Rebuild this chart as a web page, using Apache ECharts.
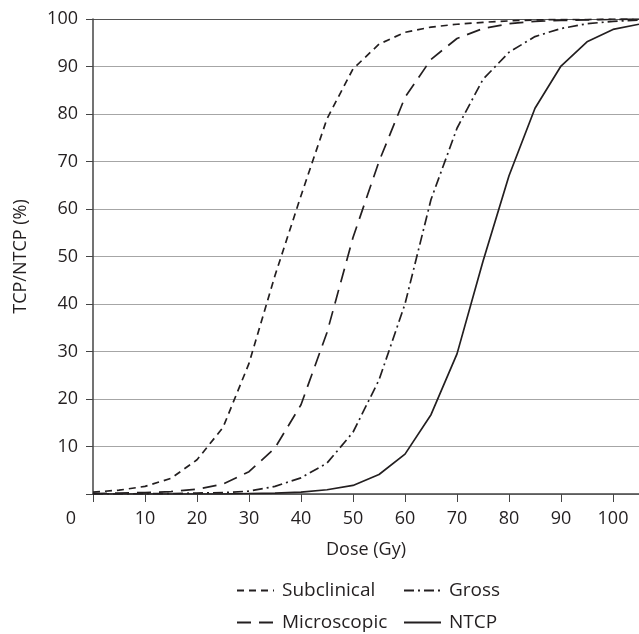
<!DOCTYPE html>
<html>
<head>
<meta charset="utf-8">
<script src="https://cdn.jsdelivr.net/npm/echarts@6/dist/echarts.min.js"></script>
<style>
  html, body { margin: 0; padding: 0; background: #fff; }
  #main { width: 639px; height: 634px; }
</style>
</head>
<body>
<div id="main"></div>
<script>
// dose in Gy, every 5 Gy
const dose = [0, 5, 10, 15, 20, 25, 30, 35, 40, 45, 50, 55, 60, 65, 70, 75, 80, 85, 90, 95, 100, 105];

const subclinical = [0.4, 0.8, 1.6, 3.3, 7.2, 14, 27.5, 46, 62.8, 79, 89.5, 94.7, 97.2, 98.3, 98.9, 99.3, 99.6, 99.8, 99.9, 99.9, 100, 100];
const microscopic = [0.1, 0.2, 0.3, 0.5, 1.0, 2.1, 4.7, 9.7, 18.8, 34, 54, 70, 83.5, 91.5, 95.9, 98, 99, 99.5, 99.7, 99.8, 99.9, 100];
const gross = [0, 0, 0.1, 0.1, 0.2, 0.3, 0.6, 1.6, 3.4, 6.5, 13, 24, 40, 62, 77, 87.3, 93, 96.3, 98, 99, 99.5, 99.8];
const ntcp = [0, 0, 0, 0, 0, 0, 0.1, 0.2, 0.4, 0.9, 1.8, 4.1, 8.4, 16.7, 29.5, 49, 67, 81.2, 90.1, 95.2, 97.8, 98.9];

const font = 'Open Sans';
const ink = '#231f20';

function pairs(vals) {
  return dose.map((d, i) => [d, vals[i]]);
}

function lineSeries(name, vals, type) {
  return {
    name: name,
    type: 'line',
    data: pairs(vals),
    symbol: 'none',
    smooth: false,
    lineStyle: { color: ink, width: 1.7, type: type },
    itemStyle: { color: ink }
  };
}

const gridColors = ['#a6a6a6', '#a6a6a6', '#a6a6a6', '#a6a6a6', '#a6a6a6', '#a6a6a6',
  '#a6a6a6', '#a6a6a6', '#a6a6a6', '#a6a6a6', '#555'];

// two vertical legends side by side to get the 2x2 block
const legendBase = {
  orient: 'vertical',
  top: 581,
  padding: 0,
  itemWidth: 37,
  itemHeight: 14,
  itemGap: 13,
  itemStyle: { color: 'transparent', borderColor: 'transparent', borderWidth: 0 },
  textStyle: { fontFamily: font, fontSize: 19, lineHeight: 18, color: ink, padding: [0, 0, 0, 3] }
};

const option = {
  animation: false,
  backgroundColor: '#fff',
  grid: { left: 93, top: 19, width: 548, height: 475 },
  xAxis: {
    type: 'value',
    min: 0,
    max: 105,
    interval: 10,
    name: 'Dose (Gy)',
    nameLocation: 'middle',
    nameGap: 47,
    nameTextStyle: { fontFamily: font, fontSize: 18, color: ink },
    axisLine: { lineStyle: { color: '#444', width: 1.5 } },
    axisTick: { length: 8, lineStyle: { color: '#444' } },
    axisLabel: {
      fontFamily: font, fontSize: 18, color: ink, margin: 16,
      showMaxLabel: false,
      formatter: v => (v === 0 || v % 10 !== 0) ? '' : String(v)
    },
    splitLine: { show: false }
  },
  yAxis: {
    type: 'value',
    min: 0,
    max: 100,
    interval: 10,
    name: 'TCP/NTCP (%)',
    nameLocation: 'middle',
    nameGap: 63,
    nameTextStyle: { fontFamily: font, fontSize: 18, color: ink },
    axisLine: { show: true, lineStyle: { color: '#444', width: 1.5 } },
    axisTick: { show: true, length: 7, lineStyle: { color: '#444' } },
    axisLabel: {
      fontFamily: font, fontSize: 18, color: ink, margin: 15,
      formatter: v => v === 0 ? '' : String(v)
    },
    splitLine: { show: true, lineStyle: { color: gridColors, width: 1 } }
  },
  legend: [
    Object.assign({}, legendBase, { left: 236, data: ['Subclinical', 'Microscopic'] }),
    Object.assign({}, legendBase, { left: 403, data: ['Gross', 'NTCP'] })
  ],
  graphic: [{
    type: 'text',
    x: 71,
    y: 519,
    style: { text: '0', align: 'center', verticalAlign: 'middle', font: '18px "Open Sans"', fill: ink }
  }],
  series: [
    lineSeries('Subclinical', subclinical, [7, 5]),
    lineSeries('Microscopic', microscopic, [14, 8]),
    lineSeries('Gross', gross, [10, 4, 2, 4]),
    lineSeries('NTCP', ntcp, 'solid')
  ]
};

const chart = echarts.init(document.getElementById('main'));
chart.setOption(option);
</script>
</body>
</html>
